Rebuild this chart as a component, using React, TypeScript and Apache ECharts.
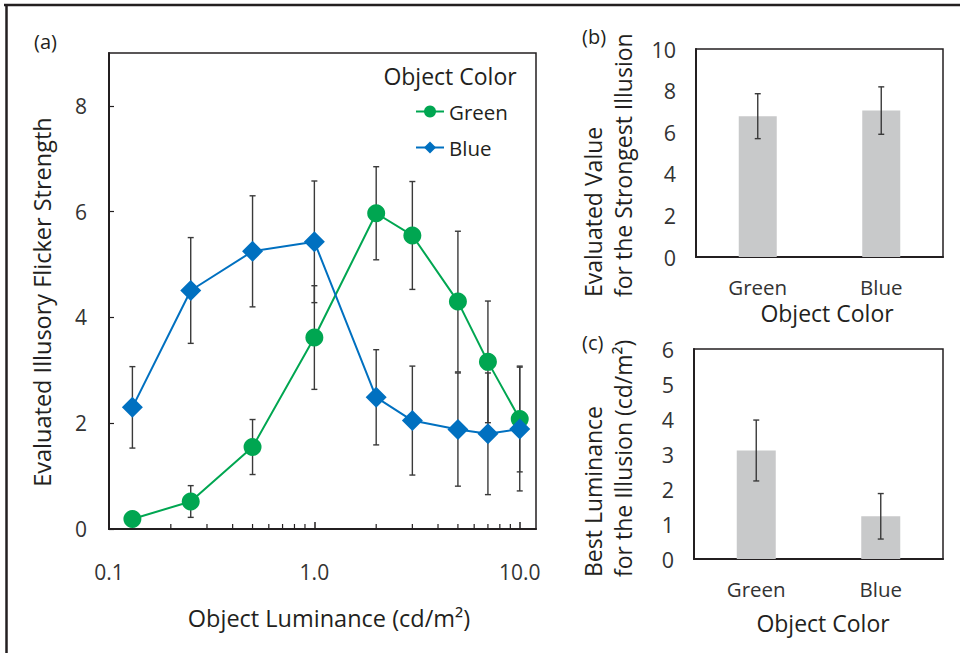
import React, { useEffect, useRef } from "react";
import * as echarts from "echarts";

// ---- Panel (a) data ----
const luminance = [0.13, 0.25, 0.5, 1, 2, 3, 5, 7, 10];
const greenMeans = [0.19, 0.52, 1.55, 3.62, 5.97, 5.55, 4.3, 3.16, 2.08];
const greenErr = [0.1, 0.3, 0.52, 0.98, 0.88, 1.02, 1.33, 1.15, 1.0];
const blueMeans = [2.3, 4.51, 5.25, 5.43, 2.49, 2.05, 1.88, 1.8, 1.89];
const blueErr = [0.77, 1.0, 1.05, 1.15, 0.9, 1.03, 1.07, 1.15, 1.17];
const minorTickValues = [0.2, 0.3, 0.4, 0.5, 0.6, 0.7, 0.8, 0.9, 2, 3, 4, 5, 6, 7, 8, 9];

// ---- Panel (b) data ----
const colorCategories = ["Green", "Blue"];
const strongestValues = [6.77, 7.04];
const strongestErr = [1.08, 1.14];

// ---- Panel (c) data ----
const bestLuminance = [3.1, 1.22];
const bestLuminanceErr = [0.87, 0.65];

const GREEN = "#00A651";
const BLUE = "#0070C0";
const BAR = "#C8C9CA";
const INK = "#231F20";
const FONT = "Open Sans";

function errorRender(capHalf: number) {
  return (params: any, api: any) => {
    const x = api.value(0);
    const lo = api.coord([x, api.value(1)]);
    const hi = api.coord([x, api.value(2)]);
    const style = { stroke: "#3a3a3a", lineWidth: 1.4 };
    return {
      type: "group",
      children: [
        { type: "line", shape: { x1: lo[0], y1: lo[1], x2: hi[0], y2: hi[1] }, style },
        { type: "line", shape: { x1: lo[0] - capHalf, y1: lo[1], x2: lo[0] + capHalf, y2: lo[1] }, style },
        { type: "line", shape: { x1: hi[0] - capHalf, y1: hi[1], x2: hi[0] + capHalf, y2: hi[1] }, style },
      ],
    };
  };
}

export default function App() {
  const ref = useRef<HTMLDivElement>(null);

  useEffect(() => {
    if (!ref.current) return;
    const chart = echarts.init(ref.current, undefined, { renderer: "svg" });

    const axisLine = { show: true, lineStyle: { color: INK, width: 2 } };
    const labelStyle = { color: "#333", fontSize: 21, fontFamily: FONT };
    const title = (extra: any) => ({
      type: "text",
      ...extra,
      style: { fontSize: 23.5, fontFamily: FONT, fill: INK, textVerticalAlign: "middle", ...extra.style },
    });

    const option: any = {
      animation: false,
      textStyle: { fontFamily: FONT },
      grid: [
        { left: 109, top: 53, right: 424, bottom: 124, show: true, borderColor: INK, borderWidth: 1.5 },
        { left: 696, top: 49, right: 17, bottom: 396, show: true, borderColor: INK, borderWidth: 1.5 },
        { left: 694, top: 349, right: 17, bottom: 94, show: true, borderColor: INK, borderWidth: 1.5 },
      ],
      legend: {
        data: ["Green", "Blue"],
        orient: "vertical",
        left: 415,
        top: 101,
        padding: 0,
        itemWidth: 28,
        itemHeight: 15,
        itemGap: 15,
        itemTextGap: 2,
        textStyle: { color: INK, fontSize: 20.5, fontFamily: FONT },
      },
      xAxis: [
        {
          type: "log",
          gridIndex: 0,
          logBase: 10,
          min: 0.1,
          max: 12,
          axisLine,
          axisTick: { show: true, inside: true, length: 7, lineStyle: { color: INK, width: 1.5 } },
          axisLabel: {
            ...labelStyle,
            margin: 32,
            showMaxLabel: false,
            formatter: (v: number) => v.toFixed(1),
          },
          splitLine: { show: false },
        },
        {
          type: "category",
          gridIndex: 1,
          data: colorCategories,
          axisLine,
          axisTick: { show: false },
          axisLabel: { ...labelStyle, fontSize: 20.5, margin: 19 },
        },
        {
          type: "category",
          gridIndex: 2,
          data: colorCategories,
          axisLine,
          axisTick: { show: false },
          axisLabel: { ...labelStyle, fontSize: 20.5, margin: 19 },
        },
      ],
      yAxis: [
        {
          type: "value",
          gridIndex: 0,
          min: 0,
          max: 9,
          interval: 2,
          axisLine,
          axisTick: { show: true, inside: true, length: 5, lineStyle: { color: INK, width: 1.2 } },
          axisLabel: { ...labelStyle, margin: 22, showMaxLabel: false },
          splitLine: { show: false },
        },
        {
          type: "value",
          gridIndex: 1,
          min: 0,
          max: 10,
          interval: 2,
          axisLine,
          axisTick: { show: false },
          axisLabel: { ...labelStyle, fontSize: 21.5, margin: 20 },
          splitLine: { show: false },
        },
        {
          type: "value",
          gridIndex: 2,
          min: 0,
          max: 6,
          interval: 1,
          axisLine,
          axisTick: { show: false },
          axisLabel: { ...labelStyle, fontSize: 21.5, margin: 20 },
          splitLine: { show: false },
        },
      ],
      series: [
        {
          type: "custom",
          xAxisIndex: 0,
          yAxisIndex: 0,
          silent: true,
          z: 1,
          data: minorTickValues.map((v) => [v, 0]),
          encode: { x: 0, y: 1 },
          renderItem: (params: any, api: any) => {
            const p = api.coord([api.value(0), 0]);
            return {
              type: "line",
              shape: { x1: p[0], y1: p[1], x2: p[0], y2: p[1] - 5 },
              style: { stroke: INK, lineWidth: 1.2 },
            };
          },
        },
        {
          type: "custom",
          xAxisIndex: 0,
          yAxisIndex: 0,
          silent: true,
          z: 1,
          data: luminance.map((x, i) => [x, greenMeans[i] - greenErr[i], greenMeans[i] + greenErr[i]]),
          encode: { x: 0, y: [1, 2] },
          renderItem: errorRender(3),
        },
        {
          type: "custom",
          xAxisIndex: 0,
          yAxisIndex: 0,
          silent: true,
          z: 1,
          data: luminance.map((x, i) => [x, blueMeans[i] - blueErr[i], blueMeans[i] + blueErr[i]]),
          encode: { x: 0, y: [1, 2] },
          renderItem: errorRender(3),
        },
        {
          name: "Green",
          type: "line",
          xAxisIndex: 0,
          yAxisIndex: 0,
          z: 3,
          data: luminance.map((x, i) => [x, greenMeans[i]]),
          symbol: "circle",
          symbolSize: 18,
          lineStyle: { color: GREEN, width: 2 },
          itemStyle: { color: GREEN },
        },
        {
          name: "Blue",
          type: "line",
          xAxisIndex: 0,
          yAxisIndex: 0,
          z: 3,
          data: luminance.map((x, i) => [x, blueMeans[i]]),
          symbol: "diamond",
          symbolSize: 21,
          lineStyle: { color: BLUE, width: 2 },
          itemStyle: { color: BLUE },
        },
        {
          type: "bar",
          xAxisIndex: 1,
          yAxisIndex: 1,
          barWidth: 38,
          data: strongestValues,
          itemStyle: { color: BAR },
          z: 2,
        },
        {
          type: "custom",
          xAxisIndex: 1,
          yAxisIndex: 1,
          silent: true,
          z: 4,
          data: strongestValues.map((v, i) => [i, v - strongestErr[i], v + strongestErr[i]]),
          encode: { x: 0, y: [1, 2] },
          renderItem: errorRender(3),
        },
        {
          type: "bar",
          xAxisIndex: 2,
          yAxisIndex: 2,
          barWidth: 39,
          data: bestLuminance,
          itemStyle: { color: BAR },
          z: 2,
        },
        {
          type: "custom",
          xAxisIndex: 2,
          yAxisIndex: 2,
          silent: true,
          z: 4,
          data: bestLuminance.map((v, i) => [i, v - bestLuminanceErr[i], v + bestLuminanceErr[i]]),
          encode: { x: 0, y: [1, 2] },
          renderItem: errorRender(3),
        },
      ],
      graphic: [
        { type: "line", shape: { x1: 4, y1: 5, x2: 960, y2: 5 }, style: { stroke: INK, lineWidth: 2.5 } },
        { type: "line", shape: { x1: 6.5, y1: 5, x2: 6.5, y2: 653 }, style: { stroke: INK, lineWidth: 2.5 } },
        title({ x: 34, y: 41, style: { text: "(a)", fontSize: 20, textAlign: "left" } }),
        title({ x: 582, y: 36, style: { text: "(b)", fontSize: 20, textAlign: "left" } }),
        title({ x: 582, y: 342, style: { text: "(c)", fontSize: 20, textAlign: "left" } }),
        title({ x: 450, y: 76, style: { text: "Object Color", fontSize: 23, textAlign: "center" } }),
        title({ x: 42, y: 302, rotation: Math.PI / 2, style: { text: "Evaluated Illusory Flicker Strength", textAlign: "center" } }),
        title({ x: 329, y: 618, style: { text: "Object Luminance (cd/m²)", textAlign: "center" } }),
        title({ x: 593, y: 297, rotation: Math.PI / 2, style: { text: "Evaluated Value", fontSize: 23, textAlign: "left" } }),
        title({ x: 623, y: 297, rotation: Math.PI / 2, style: { text: "for the Strongest Illusion", fontSize: 23, textAlign: "left" } }),
        title({ x: 827, y: 313, style: { text: "Object Color", fontSize: 23, textAlign: "center" } }),
        title({ x: 593, y: 577, rotation: Math.PI / 2, style: { text: "Best Luminance", fontSize: 23, textAlign: "left" } }),
        title({ x: 623, y: 577, rotation: Math.PI / 2, style: { text: "for the Illusion (cd/m²)", fontSize: 23, textAlign: "left" } }),
        title({ x: 823, y: 623, style: { text: "Object Color", fontSize: 23, textAlign: "center" } }),
      ],
    };

    chart.setOption(option);
    return () => chart.dispose();
  }, []);

  return (
    <div
      ref={ref}
      style={{ position: "fixed", left: 0, top: 0, width: 960, height: 653, background: "#fff" }}
    />
  );
}
